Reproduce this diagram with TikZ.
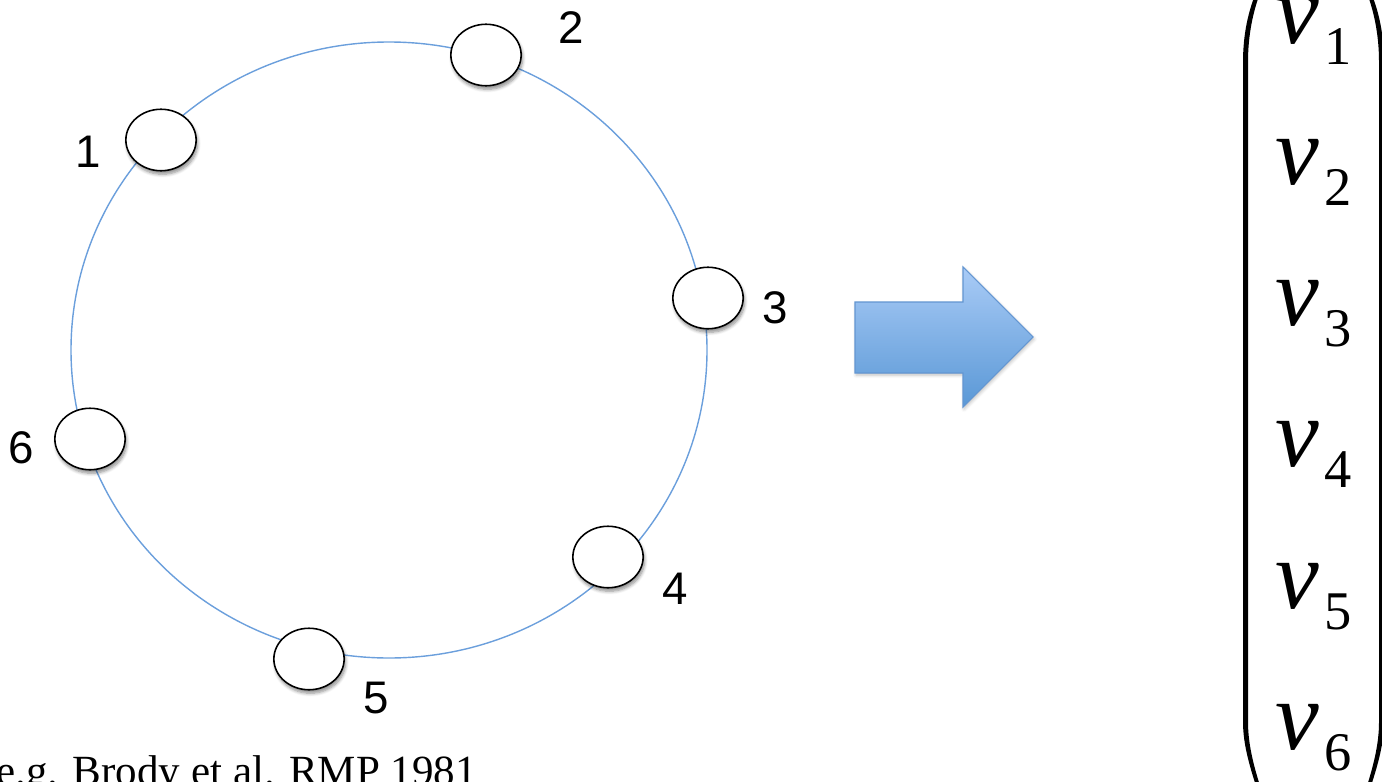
\documentclass[tikz,border=0pt]{standalone}
\usepackage{fontspec}
\setmainfont{Liberation Serif}
\setsansfont{Liberation Sans}
\usepackage{tikz}
\usetikzlibrary{positioning,shapes,shadows.blur,matrix}

\definecolor{ringblue}{HTML}{6B9FDC}
\definecolor{arrowtop}{HTML}{A9CBF6}
\definecolor{arrowbot}{HTML}{5A98D6}
\definecolor{arrowline}{HTML}{6396D2}

% one component of the vector, v with a lowered index
\newcommand{\vcomp}[1]{\textit{v}\kern3pt\raisebox{-12pt}{\fontsize{31}{33}\selectfont #1}}

\begin{document}
\begin{tikzpicture}[x=0.02cm,y=-0.02cm,
    site/.style={ellipse,draw,line width=0.9pt,fill=white,minimum width=40pt,minimum height=35pt,inner sep=0pt,
      blur shadow={shadow xshift=0.8pt,shadow yshift=-2pt,shadow blur steps=6,shadow opacity=45}},
    sitelabel/.style={font=\sffamily\fontsize{26}{30}\selectfont,inner sep=0pt},
    ventry/.style={font=\fontsize{56}{60}\selectfont,inner sep=0pt,text height=26pt,text depth=13pt}]
  \useasboundingbox (0,0) rectangle (1382,781);
  \clip (0,0) rectangle (1382,781);

  % the ring and its six sites
  \draw[ringblue,line width=0.8pt] (389,350) ellipse [x radius=318, y radius=308];
  \node[site] (s1) at (161,140) {};
  \node[site] (s2) at (486,55) {};
  \node[site] (s3) at (708,298) {};
  \node[site] (s4) at (608,557) {};
  \node[site] (s5) at (309,659) {};
  \node[site] (s6) at (90,439) {};

  \node[sitelabel] (l1) at (88,152) {1};
  \node[sitelabel] (l2) at (571,28) {2};
  \node[sitelabel] (l3) at (775,308) {3};
  \node[sitelabel] (l4) at (675,589) {4};
  \node[sitelabel] (l5) at (376,698) {5};
  \node[sitelabel] (l6) at (21,448) {6};

  \node[font=\fontsize{24.5}{28}\selectfont,anchor=base west,inner sep=0pt] (ref) at (-4,785) {e.g. Brody et al. RMP 1981};

  % block arrow
  \draw[arrowline,line width=0.6pt,top color=arrowtop,bottom color=arrowbot,
    blur shadow={shadow xshift=0.6pt,shadow yshift=-1.2pt,shadow blur steps=5,shadow opacity=25}]
    (855,302) -- (963,302) -- (963,267) -- (1033,337) -- (963,407) -- (963,373) -- (855,373) -- cycle;

  % column vector
  \matrix (V) [matrix of nodes,nodes={ventry},row sep=41.4pt,inner sep=0pt,anchor=north] at (1314,-3) {
    \vcomp{1}\\
    \vcomp{2}\\
    \vcomp{3}\\
    \vcomp{4}\\
    \vcomp{5}\\
    \vcomp{6}\\
  };
  \fill (1258,-12) .. controls (1248,10) and (1243,35) .. (1243,62) -- (1243,722)
    .. controls (1243,745) and (1250,768) .. (1259,795) -- (1263,795)
    .. controls (1254,768) and (1248,745) .. (1248,722) -- (1248,62)
    .. controls (1248,35) and (1253,10) .. (1262,-12) -- cycle;
  \fill (1369,-12) .. controls (1379,10) and (1384,35) .. (1384,62) -- (1384,722)
    .. controls (1384,745) and (1377,768) .. (1368,795) -- (1364,795)
    .. controls (1373,768) and (1379,745) .. (1379,722) -- (1379,62)
    .. controls (1379,35) and (1374,10) .. (1365,-12) -- cycle;
\end{tikzpicture}
\end{document}
